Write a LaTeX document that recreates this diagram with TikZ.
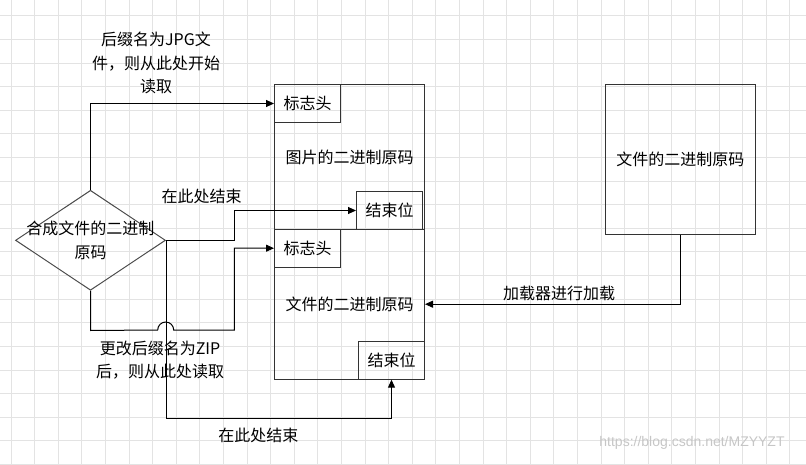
\documentclass[tikz,border=0pt]{standalone}
\usepackage{fontspec}
\setmainfont{Noto Sans CJK SC}
\newfontfamily\wmfont{Liberation Sans}
\usetikzlibrary{shapes.geometric,arrows.meta}

\begin{document}
\begin{tikzpicture}[x=1pt,y=-1pt,font=\fontsize{16}{23.5}\selectfont,
  box/.style={shape=rectangle,draw=black!80,line width=1pt,inner sep=0pt},
  part/.style={box,minimum width=150pt,minimum height=150pt},
  tag/.style={box,minimum width=66pt,minimum height=38pt},
  arr/.style={line width=1pt,-{Triangle[length=8pt,width=7pt]}},
  note/.style={align=center},
  gridline/.style={gray!22,line width=1pt}]
\def\dg{23.6};

\useasboundingbox (0,0) rectangle (806,465);

% background grid
\foreach \i in {0,...,33} \draw[gridline] (11+\i*\dg,0) -- (11+\i*\dg,465);
\foreach \j in {0,...,19} \draw[gridline] (0,16+\j*\dg) -- (806,16+\j*\dg);

% merged file
\node[shape=diamond,draw=black!70,line width=1pt,inner sep=0pt,minimum width=150pt,minimum height=100pt] (merge) at (90.5,240.3) {};
\node[note] (mergeT) at (merge.center) {合成文件的二进制\\原码};

% picture + file blocks
\node[part,minimum height=145pt] (img) at (349.5,157) {图片的二进制原码};
\node[part] (file) at (349.5,304.2) {文件的二进制原码};
\node[tag,anchor=north west] (headI) at (img.north west) {标志头};
\node[tag,anchor=south east] (endI) at ([xshift=-2pt]img.south east) {结束位};
\node[tag,anchor=north west] (headF) at (file.north west) {标志头};
\node[tag,anchor=south east] (endF) at (file.south east) {结束位};

\node[part] (src) at (680.3,159.3) {文件的二进制原码};

% connectors
\draw[arr] (merge.north) |- (headI.west);
\node[note] (jpgL) at (156,63) {后缀名为JPG文\\件，则从此处开始\\读取};

\draw[arr] (merge.east) -- ++(68.6,0) |- (endI.west);
\node (endIL) at (201.7,196.7) {在此处结束};

\draw[arr] (merge.south) -- ++(0,39.7) -- (157.7,330) arc[start angle=180,end angle=0,radius=8pt] -- (234.3,330) |- (headF.west);
\node[note] (zipL) at (160,360) {更改后缀名为ZIP\\后，则从此处读取};

\draw[arr] (merge.east) -- ++(0,178) -| (endF.south);
\node (endFL) at (258.3,435) {在此处结束};

\draw[arr] (src.south) |- (file.east);
\node (loadL) at (559,293) {加载器进行加载};

\node[gray!45,font=\wmfont\fontsize{14}{16}\selectfont] (wm) at (692,443) {https://blog.csdn.net/MZYYZT};
\end{tikzpicture}
\end{document}
